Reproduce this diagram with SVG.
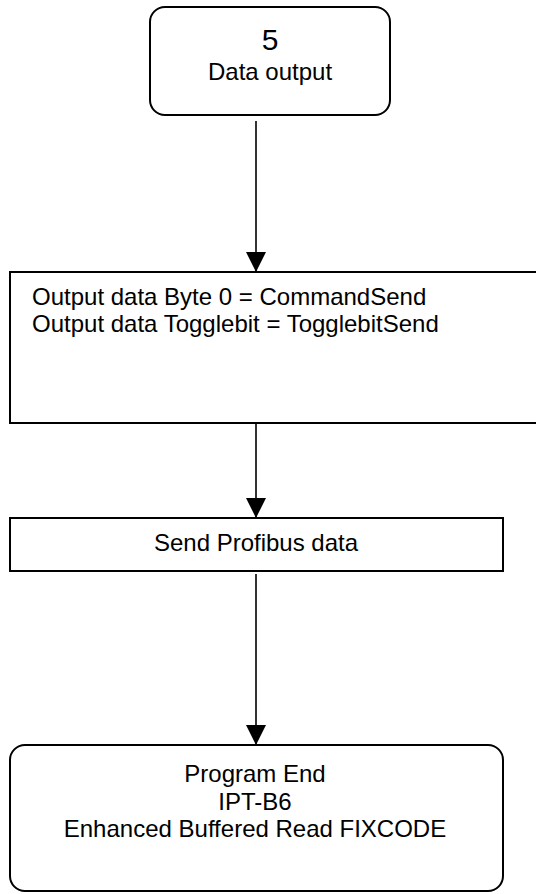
<svg xmlns="http://www.w3.org/2000/svg" width="536" height="894" viewBox="0 0 536 894">
<style>
.box{fill:#fff;stroke:#000;stroke-width:2}
.t{font-family:"Liberation Sans",Arial,sans-serif;font-size:24px;fill:#000}
.c{text-anchor:middle}
.ln{stroke:#000;stroke-width:1.6;fill:none}
</style>
<defs>
<marker id="ah" markerWidth="20" markerHeight="20" viewBox="0 0 20 20" refX="20" refY="10" orient="auto" markerUnits="userSpaceOnUse">
<path d="M0,0 L20,10 L0,20 Z" fill="#000"/>
</marker>
</defs>
<rect width="536" height="894" fill="#fff"/>
<g id="connectors">
<line class="ln" x1="256" y1="121" x2="256" y2="272" marker-end="url(#ah)"/>
<line class="ln" x1="256" y1="424" x2="256" y2="518" marker-end="url(#ah)"/>
<line class="ln" x1="256" y1="574" x2="256" y2="745" marker-end="url(#ah)"/>
</g>
<g id="n1">
<rect class="box" x="150" y="7" width="240" height="108" rx="15"/>
<text class="t c" x="270" y="50" style="font-size:30px">5</text>
<text class="t c" x="270" y="80">Data output</text>
</g>
<g id="n2">
<rect class="box" x="10" y="272" width="540" height="151"/>
<text class="t" x="32" y="305">Output data Byte 0 = CommandSend</text>
<text class="t" x="32" y="332">Output data Togglebit = TogglebitSend</text>
</g>
<g id="n3">
<rect class="box" x="10" y="518" width="493" height="53"/>
<text class="t c" x="256" y="551">Send Profibus data</text>
</g>
<g id="n4">
<rect class="box" x="10" y="745" width="493" height="146" rx="15"/>
<text class="t c" x="255" y="782">Program End</text>
<text class="t c" x="255" y="810">IPT-B6</text>
<text class="t c" x="255" y="837">Enhanced Buffered Read FIXCODE</text>
</g>
</svg>
